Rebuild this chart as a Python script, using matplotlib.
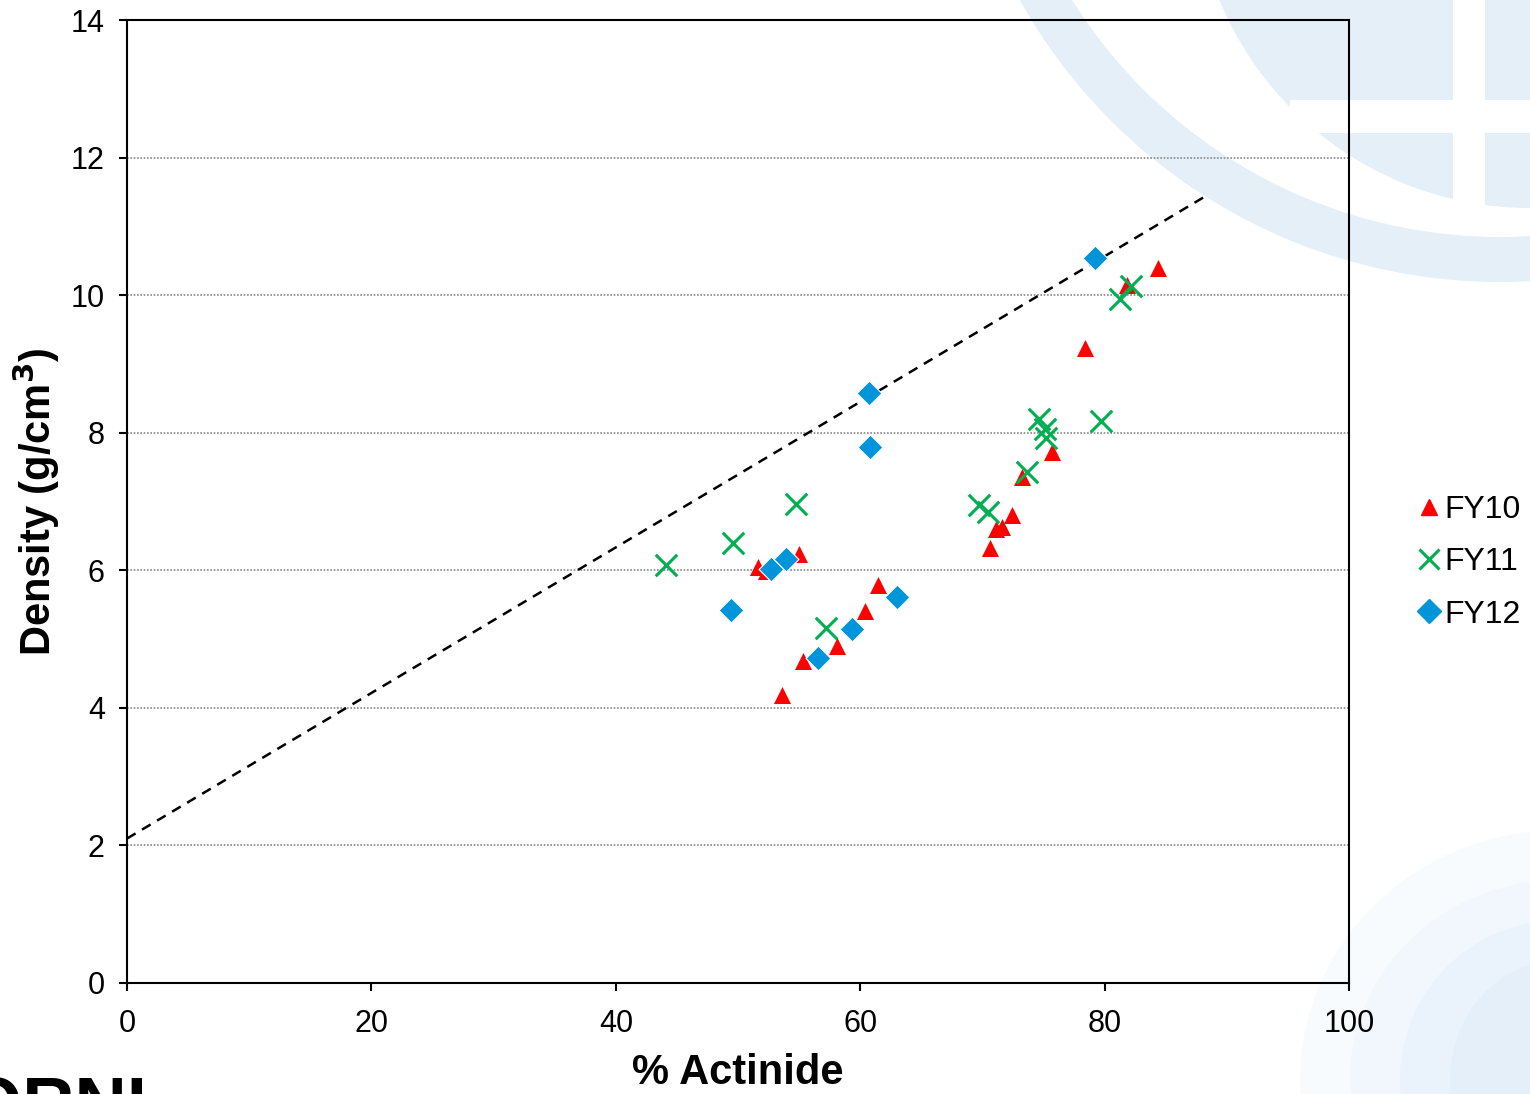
import numpy as np
import matplotlib.pyplot as plt
from matplotlib.lines import Line2D
from matplotlib.patches import Wedge, Rectangle, Ellipse

plt.rcParams['font.family'] = ['Liberation Sans', 'DejaVu Sans']

# dati
fy10_x = [53.6, 55.3, 58.1, 60.4, 61.4, 51.6, 52.3, 55.0, 70.6, 71.6, 71.1, 72.4, 73.2, 75.7, 78.4, 81.8, 84.3]
fy10_y = [4.19, 4.68, 4.90, 5.41, 5.79, 6.05, 5.99, 6.24, 6.32, 6.63, 6.60, 6.80, 7.36, 7.72, 9.23, 10.15, 10.39]
fy11_x = [44.1, 49.6, 54.7, 57.2, 69.7, 70.4, 73.6, 74.6, 75.1, 75.2, 79.7, 81.2, 82.1]
fy11_y = [6.08, 6.40, 6.96, 5.16, 6.95, 6.85, 7.43, 8.20, 8.05, 7.92, 8.17, 9.94, 10.13]
fy12_x = [49.4, 52.7, 53.9, 56.5, 59.3, 63.0, 60.7, 60.8, 79.2]
fy12_y = [5.42, 6.02, 6.16, 4.72, 5.15, 5.61, 8.58, 7.79, 10.54]
fit_x = [0, 88.4]
fit_y = [2.1, 11.46]

fig = plt.figure(figsize=(15.3, 10.94), dpi=100)

# sfondo: globo chiaro in alto a destra, nuvola azzurra in basso a destra
bg = fig.add_axes([0, 0, 1, 1], zorder=-1)
bg.set_xlim(0, 1530)
bg.set_ylim(1094, 0)
bg.axis('off')
wm = '#E4EFF7'
bg.add_patch(Wedge((1500, -268), 550, 0, 360, width=45, color=wm, lw=0))
bg.add_patch(Wedge((1530, -128), 336, 0, 360, color=wm, lw=0))
bg.add_patch(Rectangle((1290, 100), 260, 33, color='white', lw=0))
bg.add_patch(Rectangle((1453, -10), 32, 225, color='white', lw=0))
for w, h, a in [(520, 500, 0.12), (420, 400, 0.14), (320, 320, 0.16), (220, 240, 0.18)]:
    bg.add_patch(Ellipse((1560, 1080), w, h, color='#C9E1F6', alpha=a, lw=0))

ax = fig.add_axes([0.083, 0.1015, 0.799, 0.88])
ax.set_facecolor('none')

ax.plot(fit_x, fit_y, color='black', linestyle=(0, (4, 3)), linewidth=1.8, zorder=2)
ax.scatter(fy10_x, fy10_y, marker='^', s=150, color='#FF0000', linewidths=0, zorder=3, label='FY10')
ax.scatter(fy11_x, fy11_y, marker='x', s=240, color='#00B050', linewidths=2.2, zorder=4, label='FY11')
ax.scatter(fy12_x, fy12_y, marker='D', s=160, color='#0095DA', edgecolors='white', linewidths=0.8, zorder=5, label='FY12')

ax.set_xlim(0, 100)
ax.set_ylim(0, 14)
ax.set_xticks(np.arange(0, 101, 20))
ax.set_yticks(np.arange(0, 15, 2))
ax.grid(axis='y', linestyle=(0, (1, 1)), color='#888888', linewidth=1.2)
ax.set_axisbelow(True)
ax.tick_params(labelsize=22, direction='out', length=6, width=1.5, pad=10)
ax.tick_params(axis='x', pad=13)
for s in ax.spines.values():
    s.set_linewidth(1.5)
ax.set_xlabel('% Actinide', fontsize=30, fontweight='bold', labelpad=10)
ax.set_ylabel('Density (g/cm$^\\mathbf{3}$)', fontsize=30, fontweight='bold', labelpad=6)

handles = [
    Line2D([], [], marker='^', linestyle='none', color='#FF0000', markersize=12),
    Line2D([], [], marker='x', linestyle='none', color='#00B050', markersize=15, markeredgewidth=2.2),
    Line2D([], [], marker='D', linestyle='none', color='#0095DA', markersize=12),
]
fig.legend(handles, ['FY10', 'FY11', 'FY12'], loc='center left', bbox_to_anchor=(0.9155, 0.486),
           frameon=False, fontsize=23, borderpad=0, handletextpad=0.08, labelspacing=0.7, handlelength=0.8)

fig.text(-0.022, -0.031, 'ORNL', fontsize=52, fontweight='bold', color='black', ha='left', va='baseline')

fig.savefig('out.png', dpi=100)
